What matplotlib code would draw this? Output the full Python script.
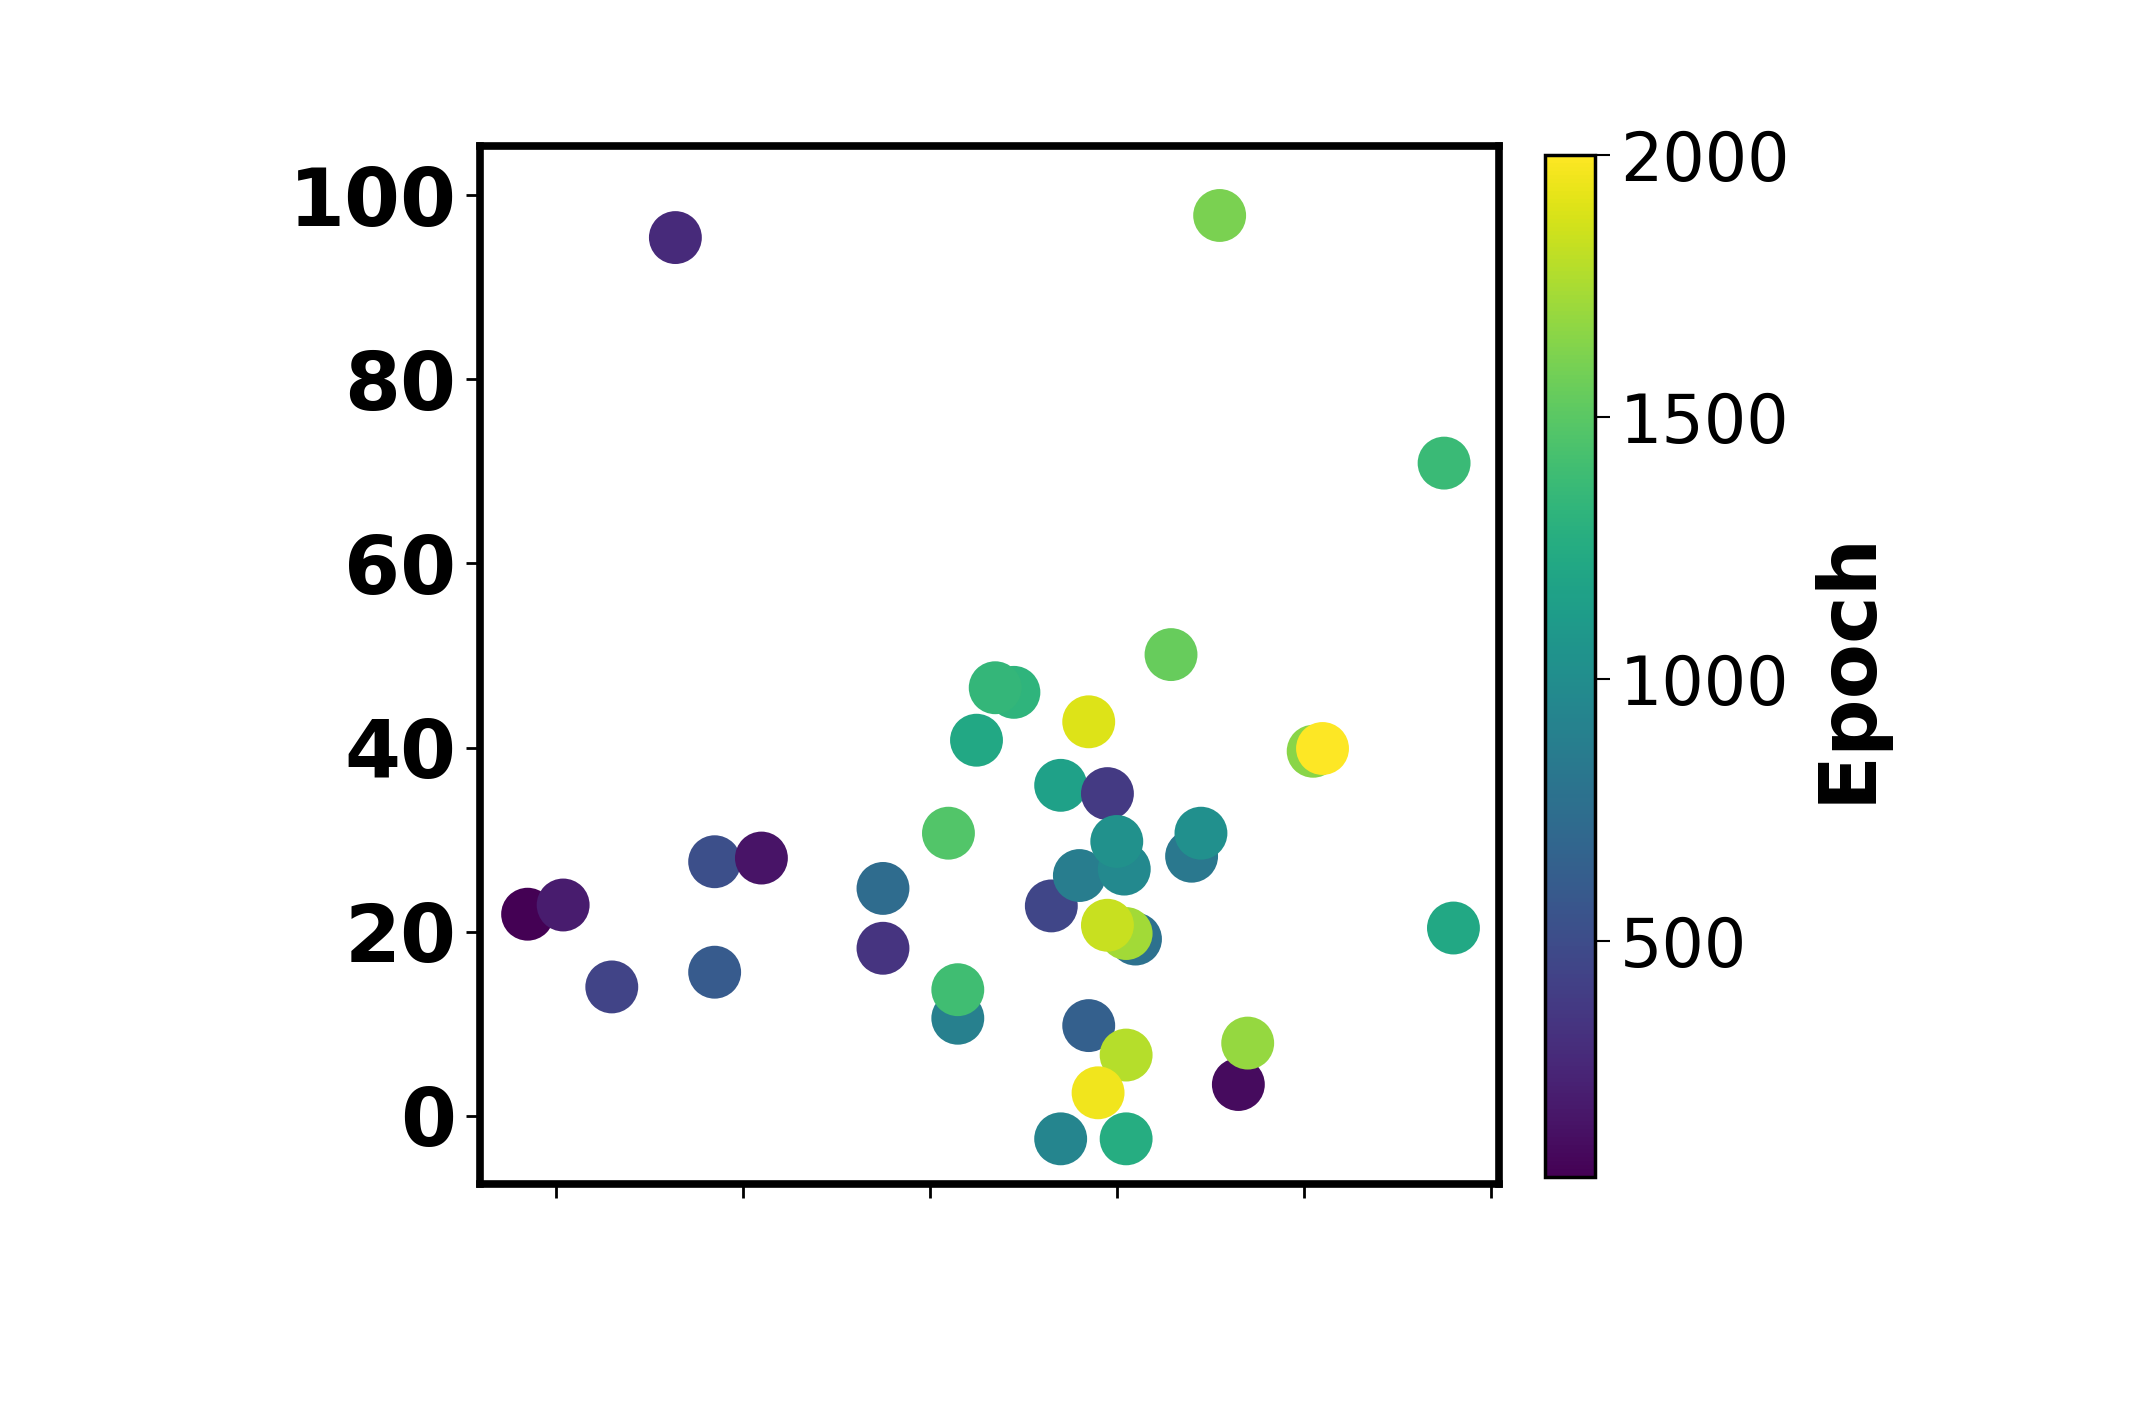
import numpy as np
import matplotlib
matplotlib.use("Agg")
import matplotlib.pyplot as plt

x_vals = [-0.15, 0.04, 0.30, 0.64, 0.85, 0.85, 1.10, 1.75, 1.75, 2.10,
          2.15, 2.15, 2.25, 2.45, 2.35, 2.65, 2.70, 2.80, 2.85, 2.85,
          2.95, 3.04, 3.00, 3.10, 3.05, 2.95, 3.05, 2.90, 2.70, 3.05,
          3.29, 3.40, 3.45, 3.55, 3.65, 3.70, 4.05, 4.10, 4.75, 4.80]
y_vals = [21.9, 22.9, 14.0, 95.4, 27.6, 15.6, 28.0, 24.7, 18.2, 30.7,
          10.6, 13.7, 40.8, 46.0, 46.5, 22.8, 35.9, 26.1, 42.8, 9.8,
          35.0, 26.8, 29.8, 19.2, 19.8, 20.7, 6.6, 2.5, -2.5, -2.5,
          50.1, 28.2, 30.7, 97.8, 3.4, 7.9, 39.6, 39.9, 70.9, 20.4]
epochs = [50, 200, 440, 280, 520, 600, 150, 730, 340, 1470,
          890, 1400, 1220, 1320, 1340, 460, 1160, 870, 1900, 640,
          380, 970, 1025, 770, 1730, 1840, 1780, 1960, 940, 1260,
          1550, 830, 1020, 1610, 110, 1690, 1650, 2000, 1370, 1220]

x_ticks = [0, 1, 2, 3, 4, 5]
y_ticks = [0, 20, 40, 60, 80, 100]
cbar_ticks = [500, 1000, 1500, 2000]

fig = plt.figure(figsize=(21.52, 14.10), dpi=100)
ax = fig.add_axes([0.2231, 0.160, 0.4735, 0.7368])

sc = ax.scatter(x_vals, y_vals, c=epochs, cmap="viridis", vmin=50, vmax=2000,
                s=1450, marker="o", linewidths=0)

ax.set_xlim(-0.404, 5.044)
ax.set_ylim(-7.45, 105.4)
ax.set_xticks(x_ticks)
ax.set_xticklabels([])
ax.set_yticks(y_ticks)
ax.set_yticklabels([str(v) for v in y_ticks], fontsize=58, fontweight="bold")
ax.tick_params(axis="both", length=10, width=2, pad=7)
for sp in ax.spines.values():
    sp.set_linewidth(5.5)

cax = fig.add_axes([0.718, 0.165, 0.023, 0.725])
cb = fig.colorbar(sc, cax=cax, ticks=cbar_ticks)
cb.outline.set_linewidth(2.5)
cax.tick_params(labelsize=48, length=11, width=1.5, pad=7)
cb.set_label("Epoch", fontsize=58, fontweight="bold", labelpad=14)

fig.savefig("out.png", dpi=100)
